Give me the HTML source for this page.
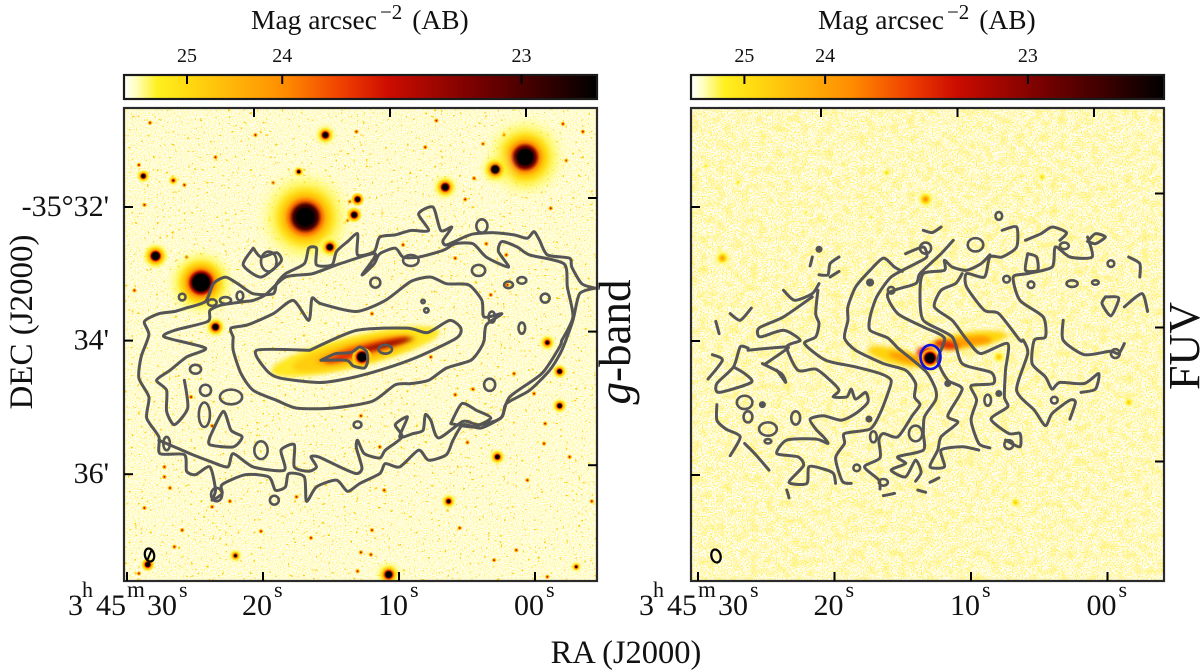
<!DOCTYPE html>
<html lang="en">
<head>
<meta charset="utf-8">
<title>Galaxy g-band and FUV maps with gas contours</title>
<style>
html,body{margin:0;padding:0;background:#fff;}
svg{display:block;font-family:"Liberation Serif",serif;}
</style>
</head>
<body>
<svg id="figure" width="1200" height="671" viewBox="0 0 1200 671" xmlns="http://www.w3.org/2000/svg">
<defs>
<filter id="noiseLeft" x="124" y="108" width="473" height="473" filterUnits="userSpaceOnUse" color-interpolation-filters="sRGB">
<feTurbulence type="fractalNoise" baseFrequency="0.85" numOctaves="1" seed="4"/>
<feColorMatrix type="matrix" values="0 0 0 0 1  0 0 0 0 0.96  0 0 0 0 0.42  2.6 0 0 0 -1.0"/>
</filter>
<filter id="speckLeft" x="124" y="108" width="473" height="473" filterUnits="userSpaceOnUse" color-interpolation-filters="sRGB">
<feTurbulence type="fractalNoise" baseFrequency="0.32" numOctaves="2" seed="11"/>
<feColorMatrix type="matrix" values="0 0 0 0 1  0 0 0 0 0.8  0 0 0 0 0.05  14 0 0 0 -9.9"/>
</filter>
<filter id="noiseRight" x="691" y="108" width="473" height="473" filterUnits="userSpaceOnUse" color-interpolation-filters="sRGB">
<feTurbulence type="fractalNoise" baseFrequency="0.8" numOctaves="1" seed="9"/>
<feColorMatrix type="matrix" values="0 0 0 0 1  0 0 0 0 0.93  0 0 0 0 0.25  3.6 0 0 0 -1.6"/>
</filter>
<filter id="mottleRight" x="691" y="108" width="473" height="473" filterUnits="userSpaceOnUse" color-interpolation-filters="sRGB">
<feTurbulence type="fractalNoise" baseFrequency="0.12" numOctaves="2" seed="21"/>
<feColorMatrix type="matrix" values="0 0 0 0 1  0 0 0 0 0.94  0 0 0 0 0.4  1.6 0 0 0 -0.7"/>
</filter>
<filter id="soft2" x="-40%" y="-200%" width="180%" height="500%"><feGaussianBlur stdDeviation="2"/></filter>
<clipPath id="clipLeft"><rect x="124" y="108" width="473" height="473"/></clipPath>
<clipPath id="clipRight"><rect x="691" y="108" width="473" height="473"/></clipPath>
<linearGradient id="cbarGradient" x1="0" x2="1" y1="0" y2="0">
<stop offset="0" stop-color="#ffffff"/>
<stop offset="0.025" stop-color="#ffffc0"/>
<stop offset="0.07" stop-color="#fff020"/>
<stop offset="0.14" stop-color="#ffd810"/>
<stop offset="0.34" stop-color="#ff8c00"/>
<stop offset="0.46" stop-color="#f04000"/>
<stop offset="0.56" stop-color="#cc0c00"/>
<stop offset="0.76" stop-color="#700000"/>
<stop offset="0.9" stop-color="#300000"/>
<stop offset="1" stop-color="#000000"/>
</linearGradient>
</defs>
</svg>
<script>
// ---------- data (sky offsets from the galaxy nucleus, arcsec: east, north) ----------
const raTickValues = [30, 20, 10, 0];
const raTickLabels = ['30', '20', '10', '00'];
const decTickValues = [32, 34, 36];
const decTickLabels = ['-35°32\'', '34\'', '36\''];
const magTickValues = [25, 24, 23];
const magTickLabels = ['25', '24', '23'];

// g-band bright sources: east, north, core, halo, peak
const gBandSources = [
[51,126,3.6,52,26],[-147,180,3,46,26],[145,67,3,34,22],[-120,169,1.6,22,10],[33,200,1.4,14,7],
[-75,153,1.6,16,8],[186,91,2,12,7],[29,99,1.6,10,6],[132,27,1.6,10,6],[197,163,1.2,6,5],
[170,159,1.6,8,0.9],[4,142,1.6,6,4],[7,128,1.6,7,5],[57,167,1,5,4],[-24,-196,1.6,18,8],
[114,-179,1.6,14,1.5],[-78,-130,1.6,8,2.5],[-122,-90,1.6,8,3],[-178,-13,1.4,7,4],[-178,-44,1.4,7,4],
[-167,13,2,9,1.6],[193,-187,1.4,6,5],[-193,-189,1.3,6,1.5]
];
// g-band faint sources: east, north
const gBandFaint = [
[201,173],[160,155],[196,137],[80,157],[11,140],[13,123],[-128,200],[-109,192],[-130,185],[-159,195],
[-165,176],[-184,177],[-101,161],[-93,142],[-170,134],[-199,203],[-181,210],[-67,213],[5,203],[96,200],
[132,180],[191,211],[55,116],[-116,56],[-131,65],[158,90],[205,60],[-57,189],[-9,39],[-37,101],
[-84,89],[-112,102],[-130,92],[178,-99],[178,-108],[173,-118],[154,-36],[135,-62],[45,-4],[-62,0],
[-137,-15],[-100,-29],[-84,-34],[-155,-33],[-149,-111],[-95,-77],[-16,-81],[1,-53],[-20,-120],[59,-126],
[119,-130],[196,-136],[162,-156],[91,-157],[46,-163],[-9,-156],[-88,-154],[-139,-174],[4,-193],[1,-176],
[-8,-178],[-119,-183],[-167,-198],[201,-195],[169,-171],[135,-135],[-207,-130],[-187,-90],[-165,-60],[-164,-78]
];
// galaxy light components: east, north, semi-major, semi-minor, tilt, level
const gBandGalaxy = [
[6,5,78,14,-13.5,0.1],[6,4,58,11,-13.5,0.17],[0,6,42,7,-14,0.28],[-9,9,34,4,-14,0.45],[-21,11,26,2,-13,0.72],[20,-1,14,3,-14,0.5]
];
const fuvGalaxy = [
[-34,16,36,7,-8,0.14],[-27,14,24,4.5,-8,0.3],[-48,16,8,3,-5,0.3],[-15,12,11,3.5,10,0.5],[29,1,28,7,14,0.15],[22,0,16,3.5,14,0.3],[4,5,8,5,0,0.5]
];
const fuvSources = [
[4,143,3.5,10,0.35],[187,90,3.5,10,0.3],[39,167,2.4,6,0.13],[-101,163,3,8,0.13],[202,173,2.4,6,0.1],[173,158,2.4,6,0.11],
[112,131,2,4,0.1],[53,127,2,5,0.1],[-179,-40,3,7,0.16],[-77,-130,3,7,0.16],[-62,1,4,8,0.17]
];

// gas contours, g-band panel: east, north
const gOuterContour = [[-210,62],[-198,66],[-189,81],[-187,89],[-167,92],[-160,105],[-155,113],[-149,107],[-137,110],[-119,112],[-101,111],[-92,108],[-76,101],[-73,105],[-81,117],[-71,114],[-64,135],[-51,129],[-60,114],[-44,114],[-30,110],[-16,108],[-11,95],[4,92],[4,111],[13,104],[23,95],[27,83],[41,83],[41,98],[48,98],[52,84],[69,75],[77,66],[80,57],[98,57],[112,66],[123,72],[134,66],[141,50],[159,44],[169,41],[183,39],[196,32],[192,20],[199,0],[201,-19],[192,-36],[194,-55],[183,-72],[182,-87],[160,-88],[158,-103],[150,-106],[137,-99],[132,-120],[135,-129],[126,-123],[126,-115],[105,-106],[84,-108],[78,-120],[69,-117],[66,-105],[52,-108],[50,-130],[41,-117],[23,-111],[13,-121],[2,-114],[-16,-105],[-21,-96],[-34,-99],[-51,-84],[-60,-93],[-76,-88],[-82,-75],[-91,-61],[-107,-64],[-126,-54],[-130,-42],[-151,-30],[-169,-12],[-180,6],[-190,33],[-196,57],[-210,62]];
const gSecondContourUpper = [[-180,15],[-190,36],[-185,63],[-182,84],[-151,92],[-140,99],[-126,104],[-123,95],[-132,81],[-112,90],[-100,102],[-84,102],[-73,96],[-51,90],[-37,90],[-30,98],[-16,93],[-11,84],[0,74],[-12,93],[20,84],[45,75],[69,72],[87,56],[98,51],[105,50],[126,47],[137,42],[139,32],[169,24],[178,18],[141,8],[158,0],[173,-12],[185,-21],[176,-30],[176,-49],[169,-61],[157,-46],[160,-21]];
const gSecondContourLower = [[-180,15],[-178,9],[-162,-15],[-133,-36],[-125,-55],[-105,-61],[-91,-58],[-69,-73],[-62,-57],[-57,-52],[-55,-66],[-46,-69],[-34,-72],[-41,-54],[-30,-61],[-36,-72],[-21,-84],[-16,-91],[-2,-87],[4,-75],[5,-82],[0,-100],[5,-105],[20,-99],[39,-90],[46,-90],[41,-99],[48,-103],[61,-99],[61,-79],[73,-84],[70,-102],[98,-99],[116,-87],[121,-99],[137,-94],[155,-87],[169,-81],[183,-75]];
const gThirdContour = [[116,18],[118,26],[103,29],[80,39],[62,51],[48,33],[45,53],[37,48],[5,41],[-21,51],[-44,68],[-62,72],[-76,66],[-96,65],[-108,51],[-110,36],[-126,39],[-112,29],[-110,15],[-107,8],[-98,-3],[-76,-10],[-60,-21],[-44,-24],[-30,-25],[-9,-40],[27,-46],[59,-46],[77,-39],[98,-30],[109,-15],[116,6],[116,18]];
const gFourthContour = [[47,6],[5,24],[-41,26],[-59,22],[-79,33],[-89,26],[-85,17],[-50,0],[-19,-11],[11,-19],[38,-23],[74,-19],[86,-12],[95,6],[47,6]];
const gFifthContour = [[37,-3],[24,3],[10,4],[2,9],[-4,5],[-5,-4],[-2,-10],[8,-8],[14,-3],[37,-3]];
const gBlobA = [[137,-72],[125,-49],[118,-66],[108,-72],[116,-81],[137,-79],[137,-72]];
const gBlobB = [[98,98],[107,83],[91,72],[73,86],[77,94],[91,90],[98,98]];
const gBlobC = [[-80,-60],[-100,-63],[-116,-55],[-103,-48],[-90,-42],[-80,-60]];
// small closed contours: east, north, semi-axis east, semi-axis north
const gIslands = [[118,-36,10,6.6],[141,-30,5,5],[150,-11,5,4],[142,-52,5,11],[-115,-25,5,5.5],[91,-84,6,8],[-44,87,7,5],[-12,67,4.5,4.5],[-105,78,6,5],[-108,118,5,6],[-144,69,4,3],[-132,65,4,3],[-165,53,4,4],[-58,42,2,2],[-55,50,1.5,1.5],[-144,26,3,5],[-117,36,3,5],[162,54,3,3],[135,49,4,3],[123,51,5,3],[110,55,3,4],[84,86,7,9],[79,-129,4,4],[4,-61,3.5,3],[131,-124,5,6],[176,-78,3,6],[-21,7,6,4]];

// FUV panel contours: east, north
const fuvStrands = [
[[196,3],[187,-2],[200,-19]],
[[177,-8],[167,-14],[161,-22],[190,-31],[192,-23],[177,-8],[171,10],[164,9]],
[[148,-5],[132,6],[129,10],[164,7]],
[[151,-5],[134,-14],[130,-22],[138,-11]],
[[106,55],[132,37],[154,27],[153,19],[132,25],[117,16],[129,10],[119,-11],[103,-10],[90,-20],[82,-29],[87,-35],[75,-35],[71,-28],[67,-37],[58,-31],[56,-40],[67,-50],[80,-56],[96,-52],[108,-55],[103,-64],[96,-71],[92,-77],[103,-73],[129,-74],[138,-86],[119,-89],[114,-97],[127,-112],[111,-113],[109,-98],[96,-100],[87,-104],[85,-113]],
[[101,61],[103,40],[100,31],[103,19],[113,13],[94,-2],[67,-8],[45,-14],[35,-20],[38,-32],[45,-50],[54,-64],[77,-68],[77,-77],[85,-90],[79,-111],[71,-113]],
[[25,78],[32,82],[42,90],[54,79],[67,64],[74,46],[74,34],[77,18],[67,7],[42,-5],[22,-11],[13,-23],[14,-35],[9,-42],[16,-52],[29,-71],[42,-68],[46,-74],[45,-90],[59,-98],[46,-110],[45,-118]],
[[22,94],[6,100],[3,91],[13,85],[35,73],[48,55],[54,37],[54,25],[38,18],[29,9],[19,1],[3,-13],[-5,-28],[-5,-38],[5,-53],[6,-68],[6,-83],[29,-89],[22,-95],[35,-101],[22,-107],[13,-92],[8,-103],[13,-111]],
[[-21,106],[-10,94],[9,76],[13,67],[38,58],[29,40],[6,28],[-13,18],[-7,-2],[-16,-20],[-29,-28],[-16,-52],[-25,-58],[-10,-71],[-7,-83],[0,-98],[-13,-98],[-10,-83],[-29,-80],[-44,-83]],
[[-54,93],[-46,85],[-33,79],[-20,82],[-13,88],[-13,79],[6,76],[9,58],[6,34],[-20,19],[-29,-5],[-55,-13],[-57,-23],[-37,-25],[-42,-38],[-37,-56],[-44,-77],[-54,-81]],
[[-29,76],[-23,67],[-10,61],[-4,46],[-20,34],[-29,22],[-36,13],[-46,4],[-70,13],[-68,-11],[-67,-35],[-70,-44],[-55,-55],[-71,-68],[-81,-68],[-81,-80],[-68,-74]],
[[-65,115],[-78,118],[-78,100],[-65,91],[-54,91],[-49,73],[-33,76],[-33,64],[-49,43],[-62,40],[-81,16],[-84,16],[-88,4],[-78,-29],[-94,-47],[-104,-61],[-110,-50],[-126,-38],[-131,-40],[-126,-55]],
[[-142,109],[-146,91],[-126,91],[-113,100],[-110,82],[-88,76],[-75,73],[-81,52],[-102,37],[-104,19],[-94,16],[-92,-5],[-104,-17],[-110,-28],[-117,-22],[-139,-23],[-152,-14],[-149,-28],[-136,-31]],
[[-120,34],[-120,16],[-139,3],[-162,6],[-170,4],[-175,13]],
[[82,91],[90,85],[92,75],[100,75]],
[[106,91],[108,83]],
[[82,78],[90,73]],
[[180,40],[171,34],[161,45]],
[[193,33],[190,22]],
[[132,61],[122,52],[106,58],[100,67]],
[[6,115],[-2,113],[-10,118]],
[[-86,106],[-100,112],[-110,118],[-123,113],[-117,106]],
[[-88,94],[-96,91],[-97,79],[-86,79],[-88,94]],
[[-158,55],[-170,54],[-163,38],[-155,49],[-158,55]],
[[-175,46],[-191,58],[-196,42]],
[[-179,91],[-189,85],[-189,73]],
[[-142,105],[-149,112],[-158,109],[-149,103],[-142,105]],
[[192,-42],[192,-56],[184,-64],[171,-71],[180,-88]],
[[167,-77],[158,-86],[145,-101]],
[[129,-119],[127,-126]],
[[42,-124],[32,-122]],
[[11,-119],[4,-121]],
[[0,-112],[-8,-108]]
];
const fuvIslands = [[-163,85,3,3],[-91,66,3,3],[-128,67,5,3],[-149,68,3,2],[-41,102,7,6],[-62,128,3,3.5],[-69,71,3,3],[54,68,2.5,2.5],[35,61,3,3],[4,99,5,5],[100,98,2,2],[-121,101,4,3],[-52,-38,3,5],[-112,-38,3,3],[-71,-78,4,4],[146,-75,3,2],[-167,4,4,4],[121,-54,4,6],[146,-64,8,6],[164,-53,4,5],[167,-40,7,6],[151,-42,2,2],[66,-99,3,3],[42,-112,4,3],[51,-71,3,5],[55,-55,2,2],[-62,-32,2,2],[-16,-23,2,2],[13,-68,6,7]];

// ---------- layout and axis functions ----------
const NS = 'http://www.w3.org/2000/svg';
const svg = document.getElementById('figure');
const left = {x0:124, key:'g-band', clip:'clipLeft', cx:362, cy:357, raX0:127, raScale:13.6, decY0:207, decScale:66.8, tilt:9, fluxScale:63};
const right = {x0:691, key:'fuv', clip:'clipRight', cx:930, cy:358, raX0:698, raScale:13.65, decY0:207, decScale:67, tilt:13.5, fluxScale:53.4};
const SKY = 1.11;
function skyX(p, east){ return p.cx - east * SKY; }
function skyY(p, north){ return p.cy - north * SKY; }
function raX(p, ra){ return p.raX0 + (30 - ra) * p.raScale; }
function decY(p, dec){ return p.decY0 + (dec - 32) * p.decScale; }
function magX(p, mag){ return p.x0 + p.fluxScale * Math.pow(10, -0.4 * (mag - 25)); }

const cmapStops = [[0,255,255,255],[0.05,255,250,60],[0.14,255,216,16],[0.34,255,140,0],[0.46,240,64,0],[0.56,204,12,0],[0.76,112,0,0],[1,0,0,0]];
function cmap(v){
  v = Math.max(0, Math.min(1, v));
  for (let i = 1; i < cmapStops.length; i++) {
    const a = cmapStops[i-1], b = cmapStops[i];
    if (v <= b[0]) {
      const t = (v - a[0]) / (b[0] - a[0]);
      return 'rgb(' + Math.round(a[1]+(b[1]-a[1])*t) + ',' + Math.round(a[2]+(b[2]-a[2])*t) + ',' + Math.round(a[3]+(b[3]-a[3])*t) + ')';
    }
  }
  return '#000';
}
function make(tag, attrs, parent){
  const n = document.createElementNS(NS, tag);
  for (const k in attrs) n.setAttribute(k, attrs[k]);
  (parent || svg).appendChild(n);
  return n;
}
// Catmull-Rom through every contour vertex
function smoothPath(p, pts){
  const xy = pts.map(q => [skyX(p,q[0]), skyY(p,q[1])]);
  let d = 'M' + xy[0][0].toFixed(1) + ' ' + xy[0][1].toFixed(1);
  for (let i = 0; i < xy.length - 1; i++) {
    const a = xy[Math.max(0,i-1)], b = xy[i], c = xy[i+1], e = xy[Math.min(xy.length-1,i+2)];
    const k = 0.12;
    d += 'C' + (b[0]+(c[0]-a[0])*k).toFixed(1) + ' ' + (b[1]+(c[1]-a[1])*k).toFixed(1) + ' '
       + (c[0]-(e[0]-b[0])*k).toFixed(1) + ' ' + (c[1]-(e[1]-b[1])*k).toFixed(1) + ' '
       + c[0].toFixed(1) + ' ' + c[1].toFixed(1);
  }
  return d;
}
let gradientCount = 0;
function drawSource(p, parent, s){
  const id = 'src' + (gradientCount++);
  const grad = make('radialGradient', {id:id}, svg.querySelector('defs'));
  for (let i = 0; i <= 14; i++) {
    const o = i / 14, r = o * s[3], x2 = (r / s[2]) * (r / s[2]);
    const v = s[4] / Math.pow(1 + x2, 1.5) + 0.0035 * s[4] * Math.pow(1 - o, 1.5);
    make('stop', {offset:o, 'stop-color':cmap(v), 'stop-opacity':Math.min(1, v * 9) * (i === 14 ? 0 : 1)}, grad);
  }
  const c = make('circle', {cx:skyX(p,s[0]), cy:skyY(p,s[1]), r:s[3] * SKY, fill:'url(#' + id + ')'}, parent);
  
  
}
function drawGalaxy(p, parent, list){
  list.forEach(g => {
    const x = skyX(p,g[0]), y = skyY(p,g[1]);
    const e = make('ellipse', {cx:x, cy:y, rx:g[2] * SKY, ry:g[3] * SKY, fill:cmap(g[5]), filter:'url(#soft2)', transform:'rotate(' + g[4] + ' ' + x + ' ' + y + ')'}, parent);
    
    
  });
}
function drawContour(p, parent, pts){
  const c = make('path', {d:smoothPath(p, pts), fill:'none', stroke:'#555', 'stroke-width':3, 'stroke-linejoin':'round', 'stroke-linecap':'round'}, parent);
  
  
}
function drawIsland(p, parent, s, filled){
  const c = make('ellipse', {cx:skyX(p,s[0]), cy:skyY(p,s[1]), rx:s[2] * SKY, ry:s[3] * SKY, fill:filled ? '#555' : 'none', stroke:'#555', 'stroke-width':2.6}, parent);
  
  
}
function line(parent, x1, y1, x2, y2, name){
  const l = make('line', {x1:x1, y1:y1, x2:x2, y2:y2, stroke:'#000', 'stroke-width':2}, parent);
  
  
}
function label(txt, x, y, size, anchor, name){
  const t = make('text', {x:x, y:y, 'font-size':size, 'text-anchor':anchor, fill:'#111'});
  t.textContent = txt;
  
  
  return t;
}
function span(t, str, x, y, size){
  const a = make('tspan', {x:x, y:y, 'font-size':size}, t);
  a.textContent = str;
}

// ---------- panels ----------
function drawPanel(p, isLeft){
  const g = make('g', {'clip-path':'url(#' + p.clip + ')'});
  
  
  make('rect', {x:p.x0, y:108, width:473, height:473, fill:'#fff'}, g);
  if (isLeft) {
    make('rect', {x:p.x0, y:108, width:473, height:473, filter:'url(#noiseLeft)'}, g);
    make('rect', {x:p.x0, y:108, width:473, height:473, filter:'url(#speckLeft)'}, g);
    gBandFaint.forEach(s => {
      const h = make('circle', {cx:skyX(p,s[0]), cy:skyY(p,s[1]), r:2.2, fill:cmap(0.2)}, g);
      
      
      const c = make('circle', {cx:skyX(p,s[0]), cy:skyY(p,s[1]), r:1, fill:cmap(0.55)}, g);
      
      
    });
    gBandSources.forEach(s => drawSource(p, g, s));
    drawGalaxy(p, g, gBandGalaxy);
    drawSource(p, g, [0,0,2.2,9,8]);
    [gOuterContour, gSecondContourUpper, gSecondContourLower, gThirdContour, gFourthContour, gFifthContour, gBlobA, gBlobB, gBlobC].forEach(c => drawContour(p, g, c));
    gIslands.forEach(s => drawIsland(p, g, s, false));
  } else {
    make('rect', {x:p.x0, y:108, width:473, height:473, filter:'url(#mottleRight)'}, g);
    make('rect', {x:p.x0, y:108, width:473, height:473, filter:'url(#noiseRight)'}, g);
    fuvSources.forEach(s => drawSource(p, g, s));
    drawGalaxy(p, g, fuvGalaxy);
    drawSource(p, g, [0,0,2,8,12]);
    fuvStrands.forEach(c => drawContour(p, g, c));
    fuvIslands.forEach(s => drawIsland(p, g, s, s[2] <= 2.5));
  }
  // frame
  const f = make('rect', {x:p.x0, y:108, width:473, height:473, fill:'none', stroke:'#2a2a2a', 'stroke-width':2.2});
  
  
  // ra ticks
  raTickValues.forEach(v => {
    const x = raX(p, v);
    line(svg, x, 581, x, 572, 'ra-tick-bottom');
    const xt = x - p.tilt;
    if (xt > p.x0 + 2 && v < 30) line(svg, xt, 108, xt, 117, 'ra-tick-top');
  });
  // dec ticks
  decTickValues.forEach(v => {
    const y = decY(p, v);
    line(svg, p.x0, y, p.x0 + 9, y, 'dec-tick-left');
    line(svg, p.x0 + 473, y - p.tilt, p.x0 + 464, y - p.tilt, 'dec-tick-right');
  });
  // ra labels
  raTickValues.forEach((v, i) => {
    const x = raX(p, v);
    const txt = raTickLabels[i];
    if (i === 0) {
      const t = label('', x, 615, 30, 'start', 'ra-tick-label');
      span(t, '3', x - 59, 615, 30);
      span(t, 'h', x - 45, 597, 22);
      span(t, '45', x - 31, 615, 30);
      span(t, 'm', x + 0, 597, 23);
      span(t, txt, x + 20, 615, 30);
      span(t, 's', x + 52, 597, 22);
    } else {
      const t = label('', x - 21, 615, 30, 'start', 'ra-tick-label');
      span(t, txt, x - 21, 615, 30);
      span(t, 's', x + 11, 597, 22);
    }
  });
  // colour bar
  const bar = make('rect', {x:p.x0, y:75, width:473, height:24, fill:'url(#cbarGradient)', stroke:'#1a1a1a', 'stroke-width':2.2});
  
  
  magTickValues.forEach((m, i) => {
    const x = magX(p, m);
    line(svg, x, 75, x, 84, 'colorbar-tick');
    label(magTickLabels[i], x, 62, 20, 'middle', 'colorbar-tick-label');
  });
  const title = label('Mag arcsec', isLeft ? 251 : 818, 29, 27.5, 'start', 'colorbar-title');
  const a = make('tspan', {'font-size':21, dy:-10, dx:3}, title);
  a.textContent = '−2';
  const b = make('tspan', {dy:10, dx:3}, title);
  b.textContent = ' (AB)';
}
drawPanel(left, true);
drawPanel(right, false);

// beams
function beam(x, y, slash){
  const e = make('ellipse', {cx:x, cy:y, rx:4.6, ry:6.6, fill:'none', stroke:'#000', 'stroke-width':2.2, transform:'rotate(-14 ' + x + ' ' + y + ')'});
  
  
  if (slash) line(svg, x - 2.5, y + 6, x + 2.5, y - 6, 'beam-slash');
}
beam(149.5, 555, true);
beam(716, 556, false);

// FUV aperture
const ap = make('ellipse', {cx:930.5, cy:357, rx:10, ry:12, fill:'none', stroke:'#1010e0', 'stroke-width':2.6});



// dec labels on left panel
decTickValues.forEach((v, i) => {
  label(decTickLabels[i], 109, decY(left, v) + 9, 30, 'end', 'dec-tick-label');
});

// axis titles
const ra = label('RA (J2000)', 626, 663, 32.5, 'middle', 'x-axis-title');
const dec = label('DEC (J2000)', 0, 0, 33, 'middle', 'y-axis-title');
dec.setAttribute('transform', 'translate(32 322) rotate(-90)');
const gb = label('', 0, 0, 45, 'middle', 'g-band-panel-label');
gb.setAttribute('transform', 'translate(630 342) rotate(-90)');
const gi = make('tspan', {'font-style':'italic'}, gb);
gi.textContent = 'g';
const gr = make('tspan', {}, gb);
gr.textContent = '-band';
const fuv = label('FUV', 0, 0, 44, 'middle', 'fuv-panel-label');
fuv.setAttribute('transform', 'translate(1199 346) rotate(-90)');
</script>
</body>
</html>
